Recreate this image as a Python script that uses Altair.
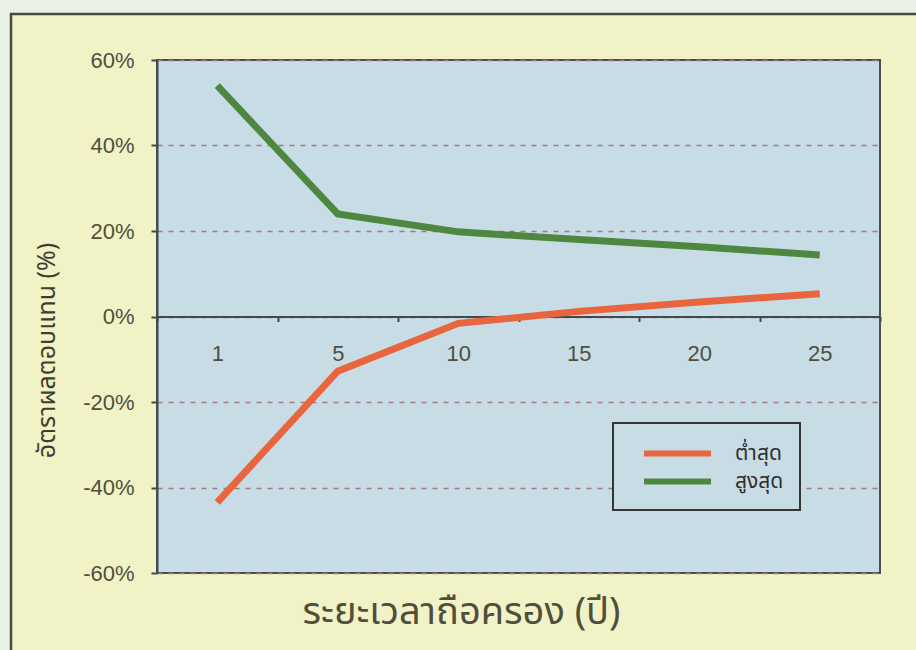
import altair as alt
import pandas as pd

# Holding period (years) and the range of annual returns (%)
years = ["1", "5", "10", "15", "20", "25"]
lowest = [-43.5, -12.8, -1.6, 1.2, 3.4, 5.3]     # ต่ำสุด
highest = [54.0, 24.0, 19.8, 18.0, 16.3, 14.4]   # สูงสุด
series_names = ["ต่ำสุด", "สูงสุด"]
series_colors = ["#e8653d", "#4e8840"]
y_ticks = [-60, -40, -20, 0, 20, 40, 60]

df = pd.DataFrame(
    {
        "year": years * 2,
        "value": lowest + highest,
        "series": [series_names[0]] * len(years) + [series_names[1]] * len(years),
    }
)

W, H = 723, 513
PAD = {"left": 157, "top": 60, "right": 36, "bottom": 77}
THAI = "Noto Sans Thai, Loma, Garuda, Tahoma, Noto Sans, sans-serif"
NUM = "Liberation Sans, Arial, sans-serif"
TEXT = "#4f4f3c"

y_scale = alt.Scale(domain=[-60, 60], nice=False)

lines = (
    alt.Chart(df)
    .mark_line(strokeWidth=7, strokeJoin="miter")
    .encode(
        x=alt.X(
            "year:N",
            sort=years,
            scale=alt.Scale(paddingInner=0, paddingOuter=0),
            axis=alt.Axis(
                title="ระยะเวลาถือครอง (ปี)",
                offset=-H / 2,
                labelAngle=0,
                labelFont=NUM,
                labelFontSize=22,
                labelColor=TEXT,
                labelPadding=22,
                tickBand="extent",
                tickSize=5,
                tickWidth=2,
                tickColor="#3f4a4f",
                domainColor="#3f4a4f",
                domainWidth=2,
                grid=False,
                titleFont=THAI,
                titleFontSize=38,
                titleFontWeight="normal",
                titleColor=TEXT,
                titleX=304,
                titleY=H / 2 + 39,
                titleBaseline="middle",
                titleAlign="center",
                titleAnchor="start",
            ),
        ),
        y=alt.Y(
            "value:Q",
            scale=y_scale,
            axis=alt.Axis(
                title="อัตราผลตอบแทน (%)",
                values=y_ticks,
                labelExpr="datum.value + '%'",
                labelFont=NUM,
                labelFontSize=22,
                labelColor=TEXT,
                labelPadding=17,
                tickSize=6,
                tickWidth=2,
                tickColor="#3f4a4f",
                domainColor="#3f4a4f",
                domainWidth=2,
                grid=True,
                gridColor="#a8767e",
                gridDash=[5, 6],
                gridWidth=1.5,
                titleFont=THAI,
                titleFontSize=25,
                titleFontWeight="normal",
                titleColor="#3f3f30",
                titleAngle=-90,
                titleX=-111,
                titleY=290,
                titleAlign="center",
                titleBaseline="middle",
                titleAnchor="start",
            ),
        ),
        color=alt.Color(
            "series:N",
            scale=alt.Scale(domain=series_names, range=series_colors),
            legend=alt.Legend(
                title=None,
                orient="none",
                legendX=456,
                legendY=363,
                padding=16,
                # long horizontal stroke drawn as a path so rows stay compact
                symbolType="M -3 0 L 3 0",
                symbolSize=499,
                symbolStrokeWidth=6,
                symbolOffset=34,
                labelFont=THAI,
                labelFontSize=21,
                labelColor="#2f2f2f",
                labelOffset=43,
                rowPadding=1,
                strokeColor="#353535",
                fillColor="#c8dce6",
                cornerRadius=0,
            ),
        ),
    )
)

# Outer frame: light margin strips and the dark border along the left and top
one = pd.DataFrame({"k": [0]})
left_strip = alt.Chart(one).mark_rect(color="#eaf1e6").encode(
    x=alt.value(-PAD["left"]), x2=alt.value(-PAD["left"] + 10),
    y=alt.value(-PAD["top"]), y2=alt.value(H + PAD["bottom"]),
)
top_strip = alt.Chart(one).mark_rect(color="#eaf1e6").encode(
    x=alt.value(-PAD["left"]), x2=alt.value(W + PAD["right"]),
    y=alt.value(-PAD["top"]), y2=alt.value(-PAD["top"] + 13),
)
left_edge = alt.Chart(one).mark_rule(color="#4a4a44", strokeWidth=2.5).encode(
    x=alt.value(-PAD["left"] + 11), y=alt.value(-PAD["top"] + 13),
    y2=alt.value(H + PAD["bottom"]),
)
top_edge = alt.Chart(one).mark_rule(color="#4a4a44", strokeWidth=2.5).encode(
    x=alt.value(-PAD["left"] + 10), x2=alt.value(W + PAD["right"]),
    y=alt.value(-PAD["top"] + 14),
)

chart = (
    alt.layer(left_strip, top_strip, left_edge, top_edge, lines)
    .properties(width=W, height=H, padding=PAD, autosize="none", background="#f2f2c7")
    .configure_view(fill="#c8dce6", stroke="#4a4f52", strokeWidth=2)
    .configure_legend(strokeWidth=2)
)

chart.save("out.html", embed_options={"renderer": "svg", "actions": False})
